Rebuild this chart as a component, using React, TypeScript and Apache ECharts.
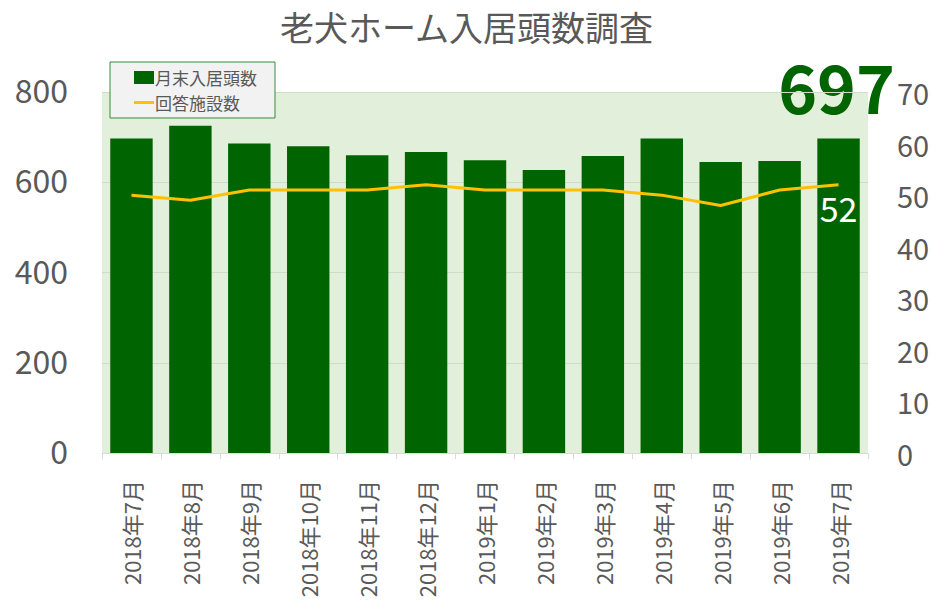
import React, { useEffect, useRef } from "react";
import * as echarts from "echarts";

const categories = [
  "2018年7月", "2018年8月", "2018年9月", "2018年10月", "2018年11月", "2018年12月",
  "2019年1月", "2019年2月", "2019年3月", "2019年4月", "2019年5月", "2019年6月", "2019年7月",
];
const dogs = [697, 725, 686, 680, 660, 667, 649, 627, 658, 697, 645, 647, 697];
const facilities = [50, 49, 51, 51, 51, 52, 51, 51, 51, 50, 48, 51, 52];
const seriesNames = ["月末入居頭数", "回答施設数"];
const titleText = "老犬ホーム入居頭数調査";

const FONT = "'Noto Sans CJK JP', 'Noto Sans', sans-serif";
const GRAY = "#595959";

export default function App() {
  const ref = useRef<HTMLDivElement>(null);
  useEffect(() => {
    if (!ref.current) return;
    const chart = echarts.init(ref.current, null, { renderer: "svg" });
    const lastIdx = facilities.length - 1;
    chart.setOption({
      animation: false,
      textStyle: { fontFamily: FONT },
      title: {
        text: titleText,
        left: "center",
        top: 4,
        textStyle: { fontFamily: FONT, fontSize: 34, fontWeight: "normal", color: GRAY },
      },
      legend: {
        left: 110,
        top: 62,
        orient: "vertical",
        itemGap: 8,
        padding: [7, 18, 7, 24],
        backgroundColor: "#f2f2f2",
        borderColor: "#3a8a3a",
        borderWidth: 1,
        itemWidth: 20,
        itemHeight: 13,
        textStyle: { fontFamily: FONT, fontSize: 17, color: GRAY, padding: [0, 0, 0, -4] },
        data: [
          { name: seriesNames[0], icon: "rect" },
          { name: seriesNames[1], icon: "path://M0,5 L20,5 L20,8 L0,8 Z" },
        ],
      },
      grid: { left: 102, right: 65, top: 92, bottom: 159, show: true, backgroundColor: "#e2efda", borderWidth: 0 },
      xAxis: {
        type: "category",
        data: categories,
        axisLine: { show: true, lineStyle: { color: "#d9d9d9" } },
        axisTick: { show: true, length: 6, lineStyle: { color: "#d9d9d9" } },
        axisLabel: { rotate: 90, fontSize: 22, color: GRAY, margin: 27, fontFamily: FONT },
      },
      yAxis: [
        {
          type: "value",
          min: 0,
          max: 800,
          interval: 200,
          axisLine: { show: false },
          axisTick: { show: false },
          axisLabel: { fontSize: 32, color: GRAY, margin: 34, fontFamily: FONT, verticalAlign: "bottom", padding: [0, 0, -13, 0] },
          splitLine: { show: true, lineStyle: { color: "#d0dcc8" } },
        },
        {
          type: "value",
          min: 0,
          max: 70,
          interval: 10,
          axisLine: { show: false },
          axisTick: { show: false },
          axisLabel: { fontSize: 29, color: GRAY, margin: 29, fontFamily: FONT },
          splitLine: { show: false },
        },
      ],
      series: [
        {
          name: seriesNames[0],
          type: "bar",
          data: dogs,
          barCategoryGap: "28%",
          itemStyle: { color: "#006400" },
        },
        {
          name: seriesNames[1],
          type: "line",
          yAxisIndex: 1,
          data: facilities.map((v, i) =>
            i === lastIdx
              ? {
                  value: v,
                  label: {
                    show: true,
                    position: "bottom",
                    distance: 6,
                    offset: [0, 0],
                    color: "#ffffff",
                    fontSize: 34,
                    fontFamily: FONT,
                  },
                }
              : v
          ),
          symbol: "circle",
          symbolSize: 0,
          showSymbol: true,
          lineStyle: { color: "#ffc000", width: 3 },
          itemStyle: { color: "#ffc000" },
        },
      ],
      graphic: [
        {
          type: "text",
          right: 38,
          top: 52,
          style: {
            text: String(dogs[dogs.length - 1]),
            fontSize: 66,
            fontWeight: "bold",
            fill: "#006400",
            fontFamily: FONT,
          },
        },
      ],
    });
    return () => chart.dispose();
  }, []);
  return <div ref={ref} style={{ width: 933, height: 612, position: "absolute", left: 0, top: 0 }} />;
}
